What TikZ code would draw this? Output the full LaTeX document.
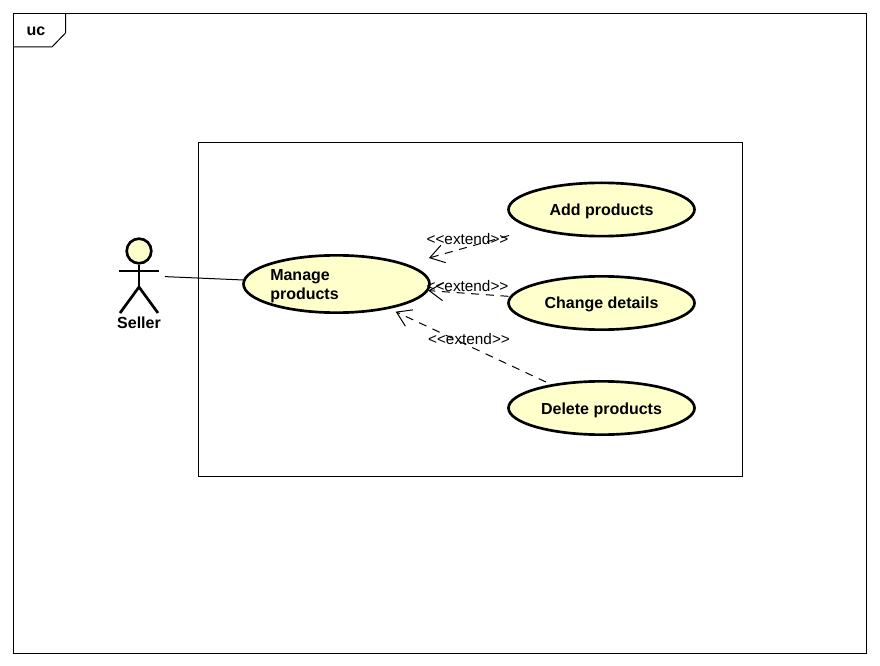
\documentclass[tikz,border=0pt]{standalone}
\usepackage{fontspec}
\setmainfont{Liberation Sans}
\usetikzlibrary{arrows.meta,shapes.geometric}
\definecolor{ucfill}{HTML}{FFFFCC}
\tikzset{
  x=0.75pt,y=-0.75pt,
  frameline/.style={draw=black,line width=0.75pt},
  usecase/.style={ellipse,draw=black,fill=ucfill,line width=2pt,minimum width=139.5pt,minimum height=40pt,inner sep=0pt,text height=11.6pt,text depth=2.5pt,font=\fontsize{12}{14.25}\selectfont\bfseries},
  boldtext/.style={inner sep=0pt,font=\fontsize{12}{14.25}\selectfont\bfseries},
  stereo/.style={inner sep=0pt,font=\fontsize{11.5}{14}\selectfont},
  extendline/.style={draw=black,line width=0.75pt,dash pattern=on 6pt off 5pt,-{Straight Barb[length=10.5pt,width=13.5pt,line width=0.75pt]}},
  limb/.style={draw=black,line width=2pt},
  assoc/.style={draw=black,line width=0.75pt}
}
\begin{document}
\begin{tikzpicture}
\useasboundingbox (0,0) rectangle (880,666);
\fill[white] (0,0) rectangle (880,666);
% outer frame
\draw[frameline] (13.5,13.5) rectangle (866.5,653.5);
\draw[frameline] (13.5,47) -- (52,47) -- (65.5,33) -- (65.5,13.5);
\node[boldtext] (frametitle) at (36,31.5) {uc};
% system boundary
\draw[frameline] (198.5,142.5) rectangle (742.5,476);
% use cases
\node[usecase,minimum height=43pt,text height=0pt,text depth=0pt] (manage) at (336.5,284) {};
\node[boldtext,anchor=west,align=left] (managetext) at (270,286) {Manage\\products};
\node[usecase] (add) at (601.5,209.5) {Add products};
\node[usecase,text height=10.6pt] (change) at (601.5,303) {Change details};
\node[usecase] (delete) at (601.5,408) {Delete products};
% actor
\coordinate (actor) at (139,275.5);
\node[circle,draw=black,fill=ucfill,line width=2pt,minimum size=18.5pt,inner sep=0pt] (head) at (139,251) {};
\coordinate (hip) at (139,287);
\coordinate (armL) at (119,271);
\coordinate (armR) at (159,271);
\coordinate (footL) at (120,313);
\coordinate (footR) at (158,313);
\draw[limb] (head.south) -- (hip);
\draw[limb] (armL) -- (armR);
\draw[limb] (footL) -- (hip) -- (footR);
\node[boldtext] (seller) at (139,323) {Seller};
% connectors
\draw[assoc,shorten <=19.5pt,shorten >=70pt] (actor) -- (manage.center);
\draw[extendline,shorten <=72pt,shorten >=72pt] (add.center) -- (manage.center);
\draw[extendline,shorten <=70pt,shorten >=69pt] (change.center) -- (manage.center);
\draw[extendline,shorten <=46pt,shorten >=49pt] (delete.center) -- (manage.center);
% stereotypes
\node[stereo] (ext1) at (467.5,239) {<{}<extend>{}>};
\node[stereo] (ext2) at (467.5,286) {<{}<extend>{}>};
\node[stereo] (ext3) at (469,339) {<{}<extend>{}>};
\end{tikzpicture}
\end{document}
